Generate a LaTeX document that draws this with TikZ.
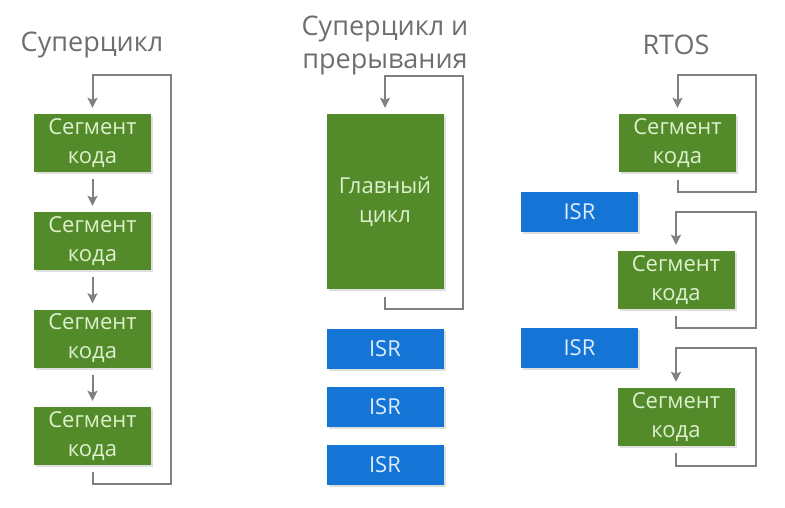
\documentclass[tikz,border=0pt]{standalone}
\usepackage{fontspec}
\setmainfont{Open Sans}
\usetikzlibrary{arrows.meta, positioning, shadows}
\definecolor{segmentgreen}{RGB}{83, 139, 43}
\definecolor{isrblue}{RGB}{20, 117, 214}
\definecolor{loopgray}{RGB}{128, 128, 128}
\definecolor{titlegray}{RGB}{110, 110, 110}
\definecolor{greentext}{RGB}{222, 240, 205}
\definecolor{bluetext}{RGB}{222, 236, 250}

\tikzset{
    block/.style={minimum width=117pt, inner sep=0pt, align=center,
        font=\fontsize{22}{29}\selectfont,
        drop shadow={shadow xshift=2pt, shadow yshift=-2pt, opacity=0.25}},
    segment/.style={block, fill=segmentgreen, text=greentext, minimum height=58pt},
    isr/.style={block, fill=isrblue, text=bluetext, minimum height=40pt},
    looparrow/.style={draw=loopgray, line width=2pt, -{Stealth[length=10pt, width=10pt, inset=2pt]}},
    heading/.style={text=titlegray, align=center, font=\fontsize{27}{33}\selectfont}
}

\begin{document}
\begin{tikzpicture}[x=1pt, y=-1pt]
    \useasboundingbox (0,0) rectangle (785,508);

    % Суперцикл
    \node[heading] (t1) at (92,45) {Суперцикл};
    \node[segment] (s1) at (92.5,143) {Сегмент\\кода};
    \node[segment] (s2) at (92.5,241) {Сегмент\\кода};
    \node[segment] (s3) at (92.5,338.5) {Сегмент\\кода};
    \node[segment] (s4) at (92.5,436) {Сегмент\\кода};
    \foreach \a/\b in {s1/s2, s2/s3, s3/s4}
        \draw[looparrow] ([yshift=-7pt]\a.south) -- ([yshift=6pt]\b.north);
    \coordinate (c1) at (171,75);
    \draw[looparrow] ([yshift=-7pt]s4.south) -- ++(0,12) -| (c1) -| ([yshift=6pt]s1.north);

    % Суперцикл и прерывания
    \node[heading] (t2) at (385,45) {Суперцикл и\\прерывания};
    \node[segment, minimum height=175pt] (main) at (385,201.5) {Главный\\цикл};
    \node[isr] (i1) at (385,348.5) {ISR};
    \node[isr] (i2) at (385,407) {ISR};
    \node[isr] (i3) at (385,465) {ISR};
    \coordinate (c2) at (463,76);
    \draw[looparrow] ([yshift=-8pt]main.south) -- ++(0,12) -| (c2) -| ([yshift=6pt]main.north);

    % RTOS
    \node[heading] (t3) at (676,45) {RTOS};
    \node[segment] (r1) at (677.5,143) {Сегмент\\кода};
    \node[isr] (ri1) at (579.5,212) {ISR};
    \node[segment] (r2) at (676,280) {Сегмент\\кода};
    \node[isr] (ri2) at (579.5,348) {ISR};
    \node[segment] (r3) at (676,417) {Сегмент\\кода};
    \coordinate (c3) at (756,75);
    \coordinate (c4) at (756,212);
    \coordinate (c5) at (756,348);
    \draw[looparrow] ([yshift=-8pt]r1.south) -- ++(0,12) -| (c3) -| ([yshift=6pt]r1.north);
    \draw[looparrow] ([yshift=-7pt]r2.south) -- ++(0,12) -| (c4) -| ([yshift=6pt]r2.north);
    \draw[looparrow] ([yshift=-7pt]r3.south) -- ++(0,13) -| (c5) -| ([yshift=6pt]r3.north);
\end{tikzpicture}
\end{document}
